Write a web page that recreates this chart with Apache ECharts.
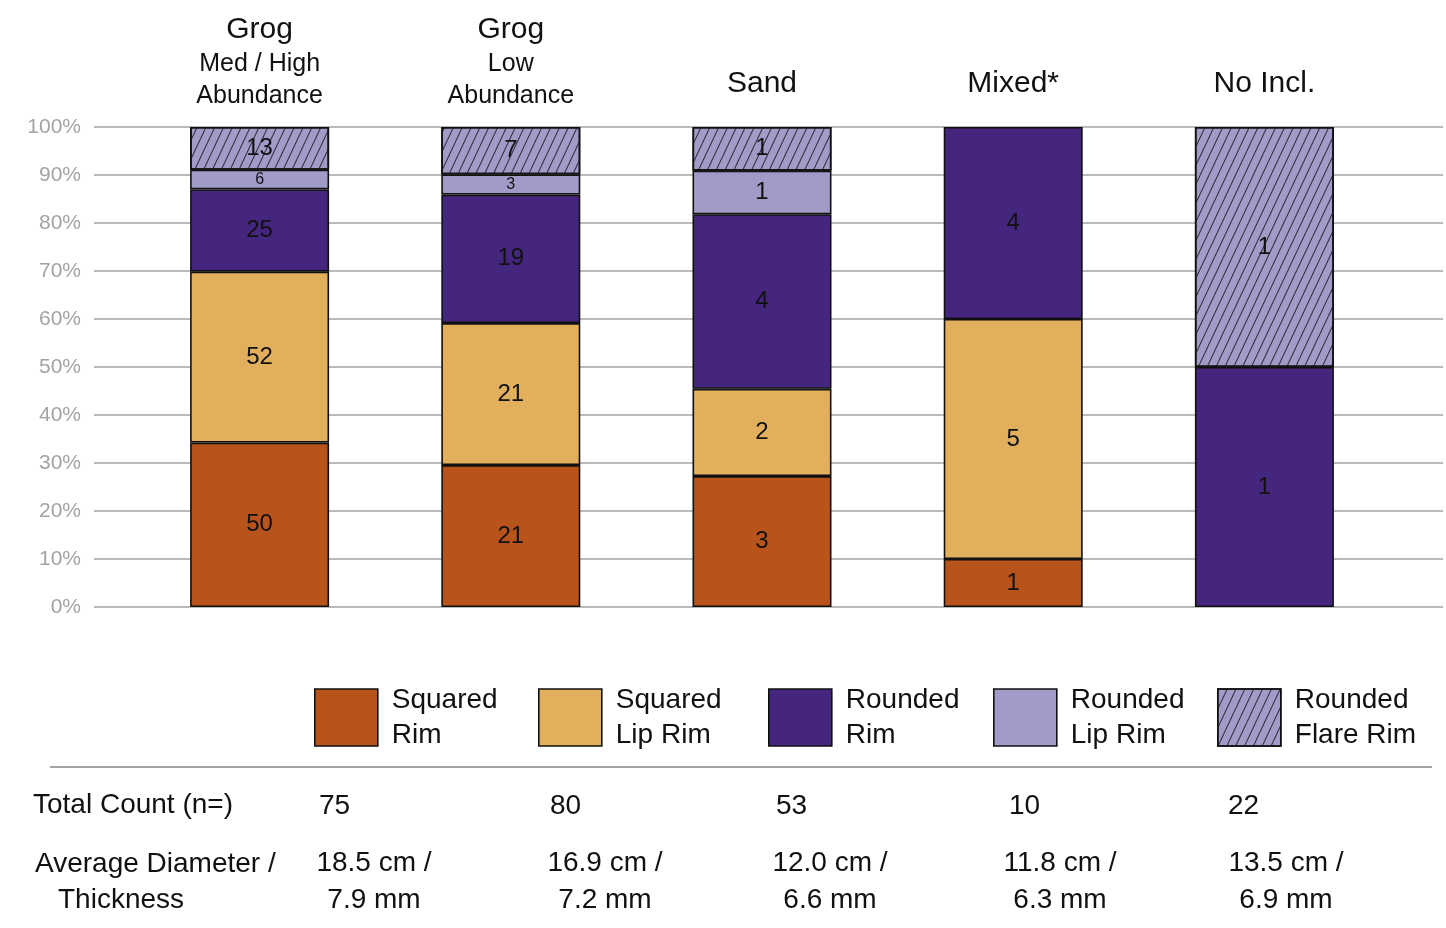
<!DOCTYPE html>
<html><head><meta charset="utf-8">
<script src="https://cdn.jsdelivr.net/npm/echarts@6/dist/echarts.min.js"></script>
<style>html,body{margin:0;padding:0;background:#fff;} #c{width:1446px;height:928px;}</style>
</head><body><div id="c"></div>
<script>
// ---- data ----
const categories = ['Grog\nMed / High\nAbundance', 'Grog\nLow\nAbundance', 'Sand', 'Mixed*', 'No Incl.'];
const seriesNames = ['Squared\nRim', 'Squared\nLip Rim', 'Rounded\nRim', 'Rounded\nLip Rim', 'Rounded\nFlare Rim'];
const squaredRim      = [50, 21, 3, 1, 0];
const squaredLipRim   = [52, 21, 2, 5, 0];
const roundedRim      = [25, 19, 4, 4, 1];
const roundedLipRim   = [6, 3, 1, 0, 0];
const roundedFlareRim = [13, 7, 1, 0, 1];
const totalCounts  = ['75', '80', '53', '10', '22'];
const avgDiameter  = ['18.5 cm /', '16.9 cm /', '12.0 cm /', '11.8 cm /', '13.5 cm /'];
const avgThickness = ['7.9 mm', '7.2 mm', '6.6 mm', '6.3 mm', '6.9 mm'];
const rowLabelCount = 'Total Count (n=)';
const rowLabelAvg1 = 'Average Diameter /';
const rowLabelAvg2 = 'Thickness';

// ---- styles / layout ----
const FONT = "'Liberation Sans', Arial, sans-serif";
const colors = ['#B9531C', '#E2AF5D', '#45267F', '#A29BC8', '#A29BC8'];
const legendLeft = [314, 538, 768, 993, 1217];
const countX = [319, 550, 776, 1009, 1228];
const avgX = [374, 605, 830, 1060, 1286];

const allCounts = [squaredRim, squaredLipRim, roundedRim, roundedLipRim, roundedFlareRim];
const totals = categories.map((_, i) => allCounts.reduce((s, arr) => s + arr[i], 0));

const series = allCounts.map((counts, si) => ({
  name: seriesNames[si],
  type: 'bar',
  stack: 'all',
  xAxisIndex: 1,
  yAxisIndex: 1,
  barWidth: 139,
  itemStyle: Object.assign({
    color: colors[si],
    borderColor: '#111',
    borderWidth: 1.6
  }, si === 4 ? {
    decal: { symbol: 'rect', symbolSize: 1, dashArrayX: [1, 0], dashArrayY: [1, 7], rotation: -Math.PI * 0.36, color: '#2a2a38' }
  } : {}),
  label: {
    show: true, position: 'inside', color: '#111', fontSize: 24, fontFamily: FONT,
    formatter: p => String(counts[p.dataIndex])
  },
  emphasis: { disabled: true },
  data: counts.map((c, i) => {
    if (c === 0) return '-';
    const pct = c / totals[i] * 100;
    const item = { value: pct };
    if (pct < 6) item.label = { fontSize: 16 };
    return item;
  })
}));

const legends = seriesNames.map((n, i) => ({
  data: [n], left: legendLeft[i], top: 682.5, padding: 0,
  itemWidth: 63, itemHeight: 57, icon: 'rect', selectedMode: false,
  itemStyle: { borderColor: '#111', borderWidth: 1.6 },
  textStyle: { fontSize: 28, lineHeight: 35, color: '#111', fontFamily: FONT, padding: [0, 0, 0, 9] }
}));

const txt = (x, y, text, align, extra) => ({
  type: 'text', x: x, y: y, silent: true,
  style: Object.assign({ text: text, fill: '#111', fontSize: 28, fontFamily: FONT, align: align, verticalAlign: 'middle' }, extra || {})
});

const graphic = [
  { type: 'line', silent: true, shape: { x1: 50, y1: 767, x2: 1432, y2: 767 }, style: { stroke: '#a3a3a3', lineWidth: 2 } },
  txt(33, 805, rowLabelCount, 'left'),
  txt(35, 864, rowLabelAvg1, 'left'),
  txt(58, 900, rowLabelAvg2, 'left')
];
totalCounts.forEach((t, i) => graphic.push(txt(countX[i], 806, t, 'left')));
avgDiameter.forEach((t, i) => graphic.push(txt(avgX[i], 882, t + '\n' + avgThickness[i], 'center', { lineHeight: 37 })));

const option = {
  animation: false,
  textStyle: { fontFamily: FONT },
  grid: [
    { left: 94, right: 3, top: 127, bottom: 321 },
    { left: 134, right: 56, top: 127, bottom: 321 }
  ],
  xAxis: [
    { type: 'value', gridIndex: 0, show: false, min: 0, max: 1 },
    {
      type: 'category', gridIndex: 1, position: 'top', data: categories,
      axisLine: { show: false }, axisTick: { show: false },
      axisLabel: {
        interval: 0, margin: 15,
        formatter: v => {
          const parts = v.split('\n');
          if (parts.length === 1) return '{t|' + parts[0] + '}';
          return '{g|' + parts[0] + '}\n' + parts.slice(1).map(s => '{s|' + s + '}').join('\n');
        },
        rich: {
          g: { fontSize: 30, lineHeight: 36, color: '#111', fontFamily: FONT },
          s: { fontSize: 25, lineHeight: 32, color: '#111', fontFamily: FONT },
          t: { fontSize: 30, lineHeight: 56, color: '#111', fontFamily: FONT }
        }
      }
    }
  ],
  yAxis: [
    {
      type: 'value', gridIndex: 0, min: 0, max: 100, interval: 10,
      axisLine: { show: false }, axisTick: { show: false },
      axisLabel: { formatter: '{value}%', color: '#a3a3a3', fontSize: 21, margin: 13, fontFamily: FONT },
      splitLine: { show: true, lineStyle: { color: '#a3a3a3', width: 1.5 } }
    },
    { type: 'value', gridIndex: 1, min: 0, max: 100, show: false, splitLine: { show: false } }
  ],
  legend: legends,
  series: series,
  graphic: graphic
};

const chart = echarts.init(document.getElementById('c'), null, { renderer: 'canvas' });
chart.setOption(option);
</script>
</body></html>
